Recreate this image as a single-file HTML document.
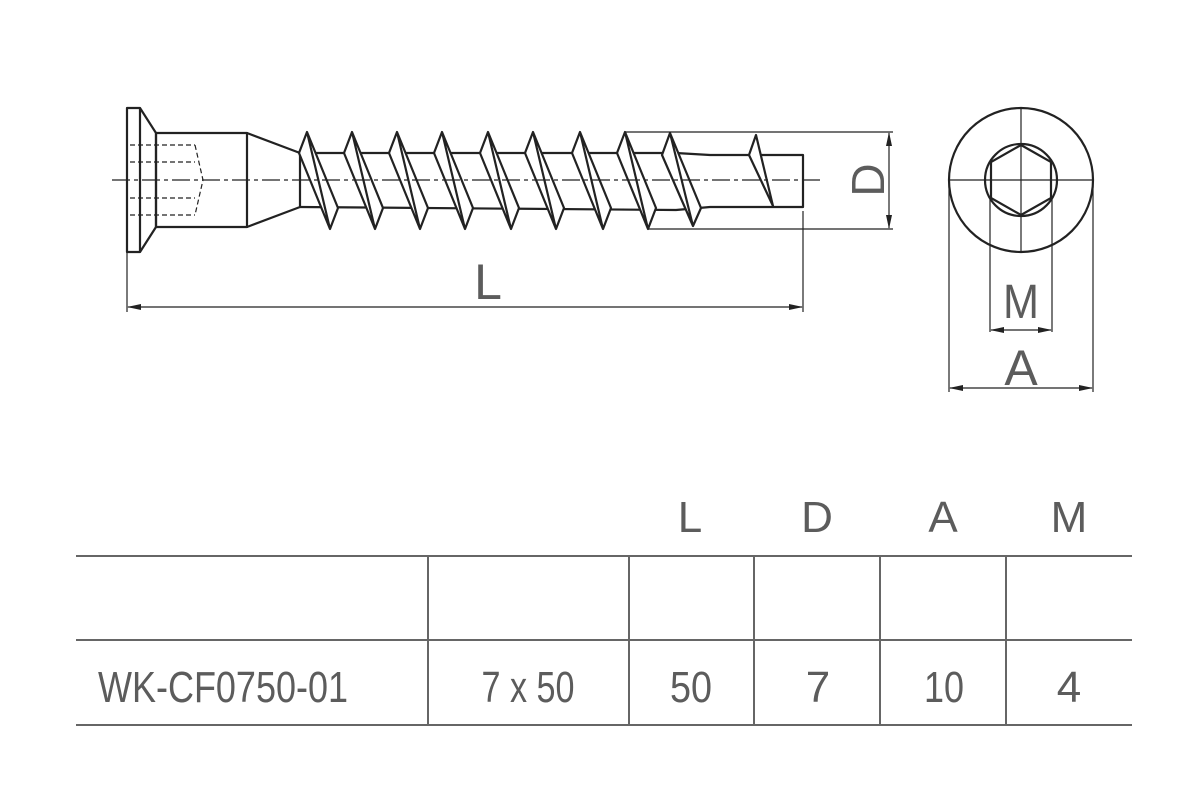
<!DOCTYPE html>
<html><head><meta charset="utf-8"><style>
html,body{margin:0;padding:0;background:#fff;}
svg{display:block;}
text{font-family:"Liberation Sans",sans-serif;fill:#5c5c5c;}
</style></head><body>
<svg width="1200" height="800" viewBox="0 0 1200 800" xmlns="http://www.w3.org/2000/svg">
<defs>
<marker id="ar" markerWidth="14" markerHeight="8" refX="13" refY="4" orient="auto" markerUnits="userSpaceOnUse">
<path d="M0,1 L14,4 L0,7 z" fill="#222"/></marker>
</defs>
<g stroke="#222" fill="none" stroke-width="2.2" stroke-linejoin="round">
<rect x="127" y="108" width="13" height="144" fill="#fff"/>
<path d="M140,108 L156,133 L156,227 L140,252"/>
<rect x="156" y="133" width="91" height="94"/>
<path d="M247,133 L300,153 L300,207 L247,227"/>
<path d="M300,153 L676,153 L710,155 L803,155 L803,207 L710,207 L676,210 L300,207"/>
<g fill="#fff">
<path d="M299,153 L307,132 L338,208 L330,229 Z M307,132 L330,229"/>
<path d="M344,153 L352,132 L383,208 L375,229 Z M352,132 L375,229"/>
<path d="M389,153 L397,132 L428,208 L420,229 Z M397,132 L420,229"/>
<path d="M434,153 L442,132 L473,208 L465,229 Z M442,132 L465,229"/>
<path d="M480,153 L488,132 L519,208 L511,229 Z M488,132 L511,229"/>
<path d="M525,153 L533,132 L564,208 L556,229 Z M533,132 L556,229"/>
<path d="M572,153 L580,132 L611,208 L603,229 Z M580,132 L603,229"/>
<path d="M617,153 L625,132 L656,208 L648,229 Z M625,132 L648,229"/>
<path d="M662,155 L670,133 L701,208 L693,226 Z M670,133 L693,226"/>
<path d="M749,155 L756,135 L773,206 Z"/>
</g>
</g>
<g stroke="#222" stroke-width="1.2" fill="none">
<path d="M130,145 H195 M130,162 H195 M130,198 H195 M130,215 H195 M195,145 L203,180 L195,215 M156,145 V215" stroke-dasharray="5,3"/>
<line x1="112" y1="180" x2="822" y2="180" stroke-dasharray="18,4,4,4"/>
<line x1="625" y1="132" x2="893" y2="132"/>
<line x1="648" y1="229" x2="893" y2="229"/>
<line x1="889" y1="180" x2="889" y2="133" marker-end="url(#ar)"/>
<line x1="889" y1="180" x2="889" y2="228" marker-end="url(#ar)"/>
<line x1="127" y1="252" x2="127" y2="312"/>
<line x1="803" y1="211" x2="803" y2="312"/>
<line x1="465" y1="307" x2="128" y2="307" marker-end="url(#ar)"/>
<line x1="465" y1="307" x2="802" y2="307" marker-end="url(#ar)"/>
<circle cx="1021" cy="180" r="72" stroke-width="2.2"/>
<circle cx="1021" cy="180" r="36" stroke-width="2.2"/>
<polygon points="1021,145 1051,162 1051,198 1021,215 991,198 991,162" stroke-width="2.2"/>
<line x1="949" y1="180" x2="1093" y2="180"/>
<line x1="1021" y1="108" x2="1021" y2="252"/>
<line x1="990" y1="198" x2="990" y2="332"/>
<line x1="1052" y1="198" x2="1052" y2="332"/>
<line x1="1021" y1="330" x2="991" y2="330" marker-end="url(#ar)"/>
<line x1="1021" y1="330" x2="1051" y2="330" marker-end="url(#ar)"/>
<line x1="949" y1="180" x2="949" y2="392"/>
<line x1="1093" y1="180" x2="1093" y2="392"/>
<line x1="1021" y1="388" x2="950" y2="388" marker-end="url(#ar)"/>
<line x1="1021" y1="388" x2="1092" y2="388" marker-end="url(#ar)"/>
</g>
<text x="488" y="299" font-size="50" text-anchor="middle" fill="#444">L</text>
<text x="1021" y="318" font-size="48" text-anchor="middle" fill="#444" textLength="36" lengthAdjust="spacingAndGlyphs">M</text>
<text x="1021" y="385" font-size="50" text-anchor="middle" fill="#444">A</text>
<text transform="translate(884,180) rotate(-90)" font-size="46" text-anchor="middle" fill="#444">D</text>
<g stroke="#666" stroke-width="2">
<line x1="76" y1="556" x2="1132" y2="556"/>
<line x1="76" y1="640" x2="1132" y2="640"/>
<line x1="76" y1="725" x2="1132" y2="725"/>
<line x1="428" y1="556" x2="428" y2="725"/>
<line x1="629" y1="556" x2="629" y2="725"/>
<line x1="754" y1="556" x2="754" y2="725"/>
<line x1="880" y1="556" x2="880" y2="725"/>
<line x1="1006" y1="556" x2="1006" y2="725"/>
</g>
<g font-size="44" text-anchor="middle">
<text x="690" y="532">L</text>
<text x="817" y="532">D</text>
<text x="943" y="532">A</text>
<text x="1069" y="532">M</text>
<text x="223" y="702" textLength="250" lengthAdjust="spacingAndGlyphs">WK-CF0750-01</text>
<text x="528" y="702" textLength="93" lengthAdjust="spacingAndGlyphs">7 x 50</text>
<text x="691" y="702" textLength="42" lengthAdjust="spacingAndGlyphs">50</text>
<text x="818" y="702">7</text>
<text x="944" y="702" textLength="40" lengthAdjust="spacingAndGlyphs">10</text>
<text x="1069" y="702">4</text>
</g>
</svg>
</body></html>
